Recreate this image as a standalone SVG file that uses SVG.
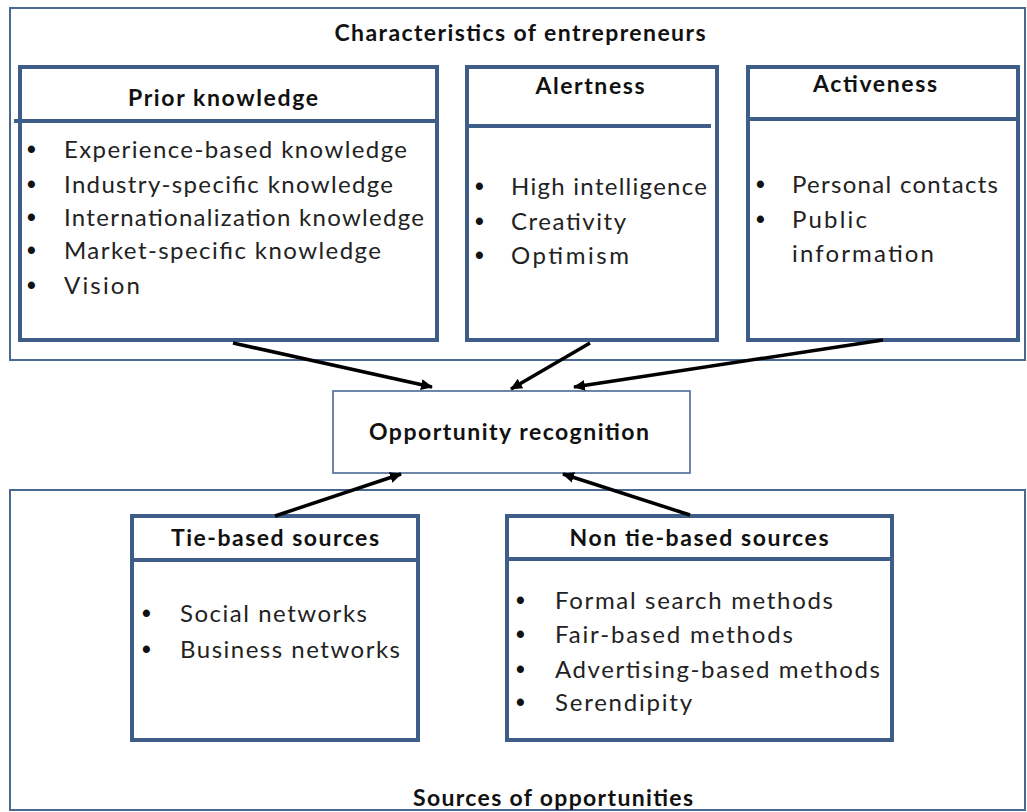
<svg xmlns="http://www.w3.org/2000/svg" width="1027" height="812" viewBox="0 0 1027 812">
<defs>
<marker id="ah" markerWidth="12" markerHeight="12" refX="11" refY="6" orient="auto" markerUnits="userSpaceOnUse" viewBox="0 0 12 12">
<path d="M0,0.5 L12,6 L0,11.5 z" fill="#000"/>
</marker>
<style>
.outer{fill:#fff;stroke:#4a6891;stroke-width:2}
.box{fill:#fff;stroke:#3e5d88;stroke-width:4}
.sep{stroke:#3e5d88;stroke-width:4}
.thin{fill:#fff;stroke:#4a6891;stroke-width:1.6}
.t{font-family:Lato,"Liberation Sans",sans-serif;font-weight:bold;font-size:23px;fill:#111;text-anchor:middle}
.b{font-family:Lato,"Liberation Sans",sans-serif;font-size:24px;fill:#222}
.d{font-family:"Liberation Sans",sans-serif;font-size:25px;font-weight:bold;fill:#111}
.c{stroke:#000;stroke-width:3.5;fill:none;marker-end:url(#ah)}
</style>
</defs>
<rect width="1027" height="812" fill="#fff"/>

<g id="characteristics">
<rect class="outer" x="10" y="8" width="1015" height="352"/>
<text class="t" x="520" y="41" textLength="371">Characteristics of entrepreneurs</text>
</g>

<g id="sources">
<rect class="outer" x="10" y="490" width="1015" height="320"/>
<text class="t" x="553" y="806" textLength="280">Sources of opportunities</text>
</g>

<g id="prior-knowledge">
<rect class="box" x="20" y="67" width="417" height="273"/>
<line class="sep" x1="14" y1="121" x2="438" y2="121"/>
<text class="t" x="223" y="106" textLength="190">Prior knowledge</text>
<g class="b">
<text class="d" x="27" y="158">•</text><text x="64" y="158" textLength="343">Experience-based knowledge</text>
<text class="d" x="27" y="193">•</text><text x="64" y="193" textLength="329">Industry-specific knowledge</text>
<text class="d" x="27" y="226">•</text><text x="64" y="226" textLength="360">Internationalization knowledge</text>
<text class="d" x="27" y="259">•</text><text x="64" y="259" textLength="317">Market-specific knowledge</text>
<text class="d" x="27" y="294">•</text><text x="64" y="294" textLength="76">Vision</text>
</g>
</g>

<g id="alertness">
<rect class="box" x="467" y="67" width="250" height="273"/>
<line class="sep" x1="467" y1="126" x2="711" y2="126"/>
<text class="t" x="590" y="94" textLength="109">Alertness</text>
<g class="b">
<text class="d" x="475" y="195">•</text><text x="511" y="195" textLength="196">High intelligence</text>
<text class="d" x="475" y="230">•</text><text x="511" y="230" textLength="115">Creativity</text>
<text class="d" x="475" y="264">•</text><text x="511" y="264" textLength="118">Optimism</text>
</g>
</g>

<g id="activeness">
<rect class="box" x="748" y="67" width="270" height="273"/>
<line class="sep" x1="748" y1="119" x2="1018" y2="119"/>
<text class="t" x="875" y="92" textLength="124">Activeness</text>
<g class="b">
<text class="d" x="756" y="193">•</text><text x="792" y="193" textLength="206">Personal contacts</text>
<text class="d" x="756" y="228">•</text><text x="792" y="228" textLength="75">Public</text>
<text x="792" y="262" textLength="142">information</text>
</g>
</g>

<g id="opportunity-recognition">
<rect class="thin" x="333" y="391" width="357" height="82"/>
<text class="t" x="509" y="440" textLength="280">Opportunity recognition</text>
</g>

<g id="tie-based">
<rect class="box" x="132" y="516" width="286" height="224"/>
<line class="sep" x1="132" y1="560" x2="418" y2="560"/>
<text class="t" x="275" y="546" textLength="208">Tie-based sources</text>
<g class="b">
<text class="d" x="142" y="622">•</text><text x="180" y="622" textLength="187">Social networks</text>
<text class="d" x="142" y="658">•</text><text x="180" y="658" textLength="220">Business networks</text>
</g>
</g>

<g id="non-tie-based">
<rect class="box" x="507" y="516" width="385" height="224"/>
<line class="sep" x1="507" y1="559" x2="892" y2="559"/>
<text class="t" x="699" y="546" textLength="259">Non tie-based sources</text>
<g class="b">
<text class="d" x="516" y="609">•</text><text x="555" y="609" textLength="278">Formal search methods</text>
<text class="d" x="516" y="643">•</text><text x="555" y="643" textLength="238">Fair-based methods</text>
<text class="d" x="516" y="678">•</text><text x="555" y="678" textLength="325">Advertising-based methods</text>
<text class="d" x="516" y="711">•</text><text x="555" y="711" textLength="137">Serendipity</text>
</g>
</g>

<g id="connectors">
<line class="c" x1="233" y1="343" x2="432" y2="387"/>
<line class="c" x1="590" y1="343" x2="511" y2="389"/>
<line class="c" x1="883" y1="340" x2="574" y2="387"/>
<line class="c" x1="275" y1="516" x2="401" y2="474"/>
<line class="c" x1="690" y1="515" x2="563" y2="474"/>
</g>
</svg>
